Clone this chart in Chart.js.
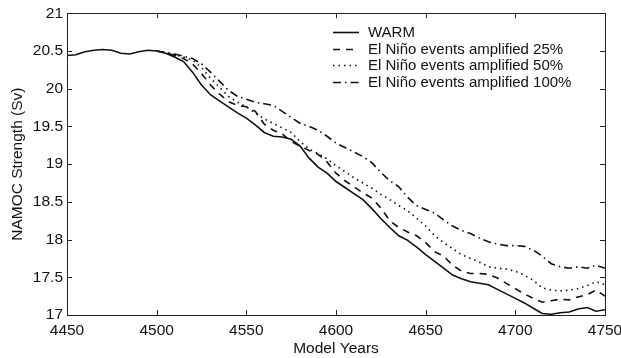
<!DOCTYPE html>
<html>
<head>
<meta charset="utf-8">
<script src="https://cdn.jsdelivr.net/npm/chart.js@4/dist/chart.umd.min.js"></script>
<style>
  body { margin: 0; background: #fff; }
  #wrap { width: 621px; height: 358px; }
</style>
</head>
<body>
<div id="wrap"><canvas id="c"></canvas></div>
<script>
// model years, every 5 years
var years = []
for (var yr = 4450; yr <= 4750; yr += 5) years.push(yr)

var xTicks = [4450, 4500, 4550, 4600, 4650, 4700, 4750]
var yTicks = [17, 17.5, 18, 18.5, 19, 19.5, 20, 20.5, 21]

var warm = [20.44, 20.45, 20.49, 20.51, 20.52, 20.51, 20.47, 20.46, 20.49, 20.51,
	20.50, 20.47, 20.42, 20.36, 20.22, 20.05, 19.92, 19.84, 19.76, 19.68,
	19.61, 19.52, 19.42, 19.37, 19.36, 19.33, 19.24, 19.08, 18.96, 18.88,
	18.77, 18.69, 18.61, 18.53, 18.41, 18.28, 18.16, 18.05, 17.99, 17.90,
	17.80, 17.71, 17.62, 17.53, 17.48, 17.44, 17.42, 17.40, 17.34, 17.28,
	17.22, 17.16, 17.09, 17.02, 17.01, 17.03, 17.04, 17.08, 17.10, 17.05, 17.07]

// the amplified runs branch off at 4500
var pad = [null, null, null, null, null, null, null, null, null, null]

var amp25 = pad.concat([20.50, 20.48, 20.44, 20.40, 20.33, 20.20, 20.05, 19.93, 19.83, 19.78,
	19.76, 19.70, 19.53, 19.45, 19.40, 19.30, 19.24, 19.18, 19.13, 19.03,
	18.88, 18.78, 18.70, 18.62, 18.55, 18.42, 18.25, 18.16, 18.10, 18.05,
	17.96, 17.84, 17.78, 17.66, 17.58, 17.55, 17.55, 17.54, 17.49, 17.42,
	17.35, 17.28, 17.22, 17.17, 17.19, 17.21, 17.20, 17.24, 17.27, 17.33, 17.25])

var amp50 = pad.concat([20.50, 20.48, 20.45, 20.42, 20.38, 20.28, 20.14, 20.02, 19.90, 19.82,
	19.76, 19.68, 19.60, 19.54, 19.48, 19.42, 19.30, 19.20, 19.14, 19.07,
	18.98, 18.90, 18.82, 18.75, 18.68, 18.60, 18.53, 18.45, 18.38, 18.28,
	18.18, 18.05, 17.96, 17.88, 17.80, 17.75, 17.70, 17.64, 17.62, 17.61,
	17.58, 17.53, 17.46, 17.36, 17.33, 17.32, 17.33, 17.35, 17.39, 17.44, 17.40])

var amp100 = pad.concat([20.50, 20.48, 20.46, 20.43, 20.40, 20.33, 20.22, 20.10, 19.98, 19.90,
	19.86, 19.82, 19.80, 19.78, 19.70, 19.62, 19.54, 19.50, 19.45, 19.37,
	19.28, 19.22, 19.16, 19.10, 19.02, 18.89, 18.78, 18.70, 18.56, 18.45,
	18.40, 18.35, 18.26, 18.18, 18.12, 18.08, 18.02, 17.97, 17.94, 17.92,
	17.92, 17.91, 17.86, 17.78, 17.68, 17.64, 17.62, 17.64, 17.62, 17.66, 17.62])

var labels = ['WARM', 'El Niño events amplified 25%', 'El Niño events amplified 50%', 'El Niño events amplified 100%']
var dashes = [[], [7, 6], [1.5, 4], [8, 4, 1.5, 4]]

var FONT = 'Liberation Sans, Arial, Helvetica, sans-serif'
var INK = '#111'

function pts(vals) {
	return years.map(function (yr, i) { return { x: yr, y: vals[i] } })
}

var series = [warm, amp25, amp50, amp100].map(function (vals, i) {
	return {
		label: labels[i],
		data: pts(vals),
		borderColor: INK,
		borderWidth: 1.6,
		borderDash: dashes[i],
		pointRadius: 0,
		tension: 0,
		fill: false,
		spanGaps: false
	}
})

// box round the axes, with inward ticks on all four sides
var frame = {
	id: 'frame',
	afterDatasetsDraw: function (chart) {
		var ctx = chart.ctx, a = chart.chartArea
		var x = chart.scales.x, y = chart.scales.y
		ctx.save()
		ctx.strokeStyle = '#222'
		ctx.lineWidth = 1
		ctx.setLineDash([])
		ctx.strokeRect(Math.round(a.left) + 0.5, Math.round(a.top) + 0.5,
			Math.round(a.right - a.left), Math.round(a.bottom - a.top))
		ctx.beginPath()
		xTicks.forEach(function (v) {
			var px = Math.round(x.getPixelForValue(v)) + 0.5
			ctx.moveTo(px, a.bottom); ctx.lineTo(px, a.bottom - 5)
			ctx.moveTo(px, a.top); ctx.lineTo(px, a.top + 5)
		})
		yTicks.forEach(function (v) {
			var py = Math.round(y.getPixelForValue(v)) + 0.5
			ctx.moveTo(a.left, py); ctx.lineTo(a.left + 5, py)
			ctx.moveTo(a.right, py); ctx.lineTo(a.right - 5, py)
		})
		ctx.stroke()
		ctx.restore()
	}
}

// legend drawn inside the axes, no box
var legendIn = {
	id: 'legendIn',
	afterDraw: function (chart) {
		var ctx = chart.ctx
		var x0 = 333, x1 = 359, tx = 368, y0 = 32, dy = 16.7
		ctx.save()
		chart.data.datasets.forEach(function (ds, i) {
			var yy = Math.round(y0 + i * dy) + 0.5
			ctx.strokeStyle = INK
			ctx.lineWidth = 1.6
			ctx.setLineDash(ds.borderDash)
			ctx.beginPath()
			ctx.moveTo(x0, yy); ctx.lineTo(x1, yy)
			ctx.stroke()
			ctx.setLineDash([])
			ctx.fillStyle = INK
			ctx.font = '15px ' + FONT
			ctx.textBaseline = 'middle'
			ctx.fillText(ds.label, tx, yy)
		})
		ctx.restore()
	}
}

new Chart(document.getElementById('c'), {
	type: 'line',
	data: { datasets: series },
	options: {
		responsive: true,
		maintainAspectRatio: false,
		animation: false,
		layout: { padding: { left: 0, top: 12, right: 16, bottom: 0 } },
		plugins: { legend: { display: false }, tooltip: { enabled: false } },
		scales: {
			x: {
				type: 'linear',
				min: 4450, max: 4750,
				afterBuildTicks: function (s) { s.ticks = xTicks.map(function (v) { return { value: v } }) },
				afterFit: function (s) { s.height = 43; s.paddingLeft = 0; s.paddingRight = 0 },
				grid: { display: false, drawTicks: false },
				border: { display: false },
				ticks: { color: INK, padding: 6, maxRotation: 0, font: { family: FONT, size: 15.5 },
					callback: function (v) { return String(v) } },
				title: { display: true, text: 'Model Years', color: INK, padding: { top: 0, bottom: 0 }, font: { family: FONT, size: 15.5 } }
			},
			y: {
				min: 17, max: 21,
				afterBuildTicks: function (s) { s.ticks = yTicks.map(function (v) { return { value: v } }) },
				afterFit: function (s) { s.width = 67 },
				grid: { display: false, drawTicks: false },
				border: { display: false },
				ticks: { color: INK, padding: 4, font: { family: FONT, size: 15.5 },
					callback: function (v) { return String(v) } },
				title: { display: true, text: 'NAMOC Strength (Sv)', color: INK, padding: { top: 8, bottom: 0 }, font: { family: FONT, size: 15.5 } }
			}
		}
	},
	plugins: [frame, legendIn]
})
</script>
</body>
</html>
